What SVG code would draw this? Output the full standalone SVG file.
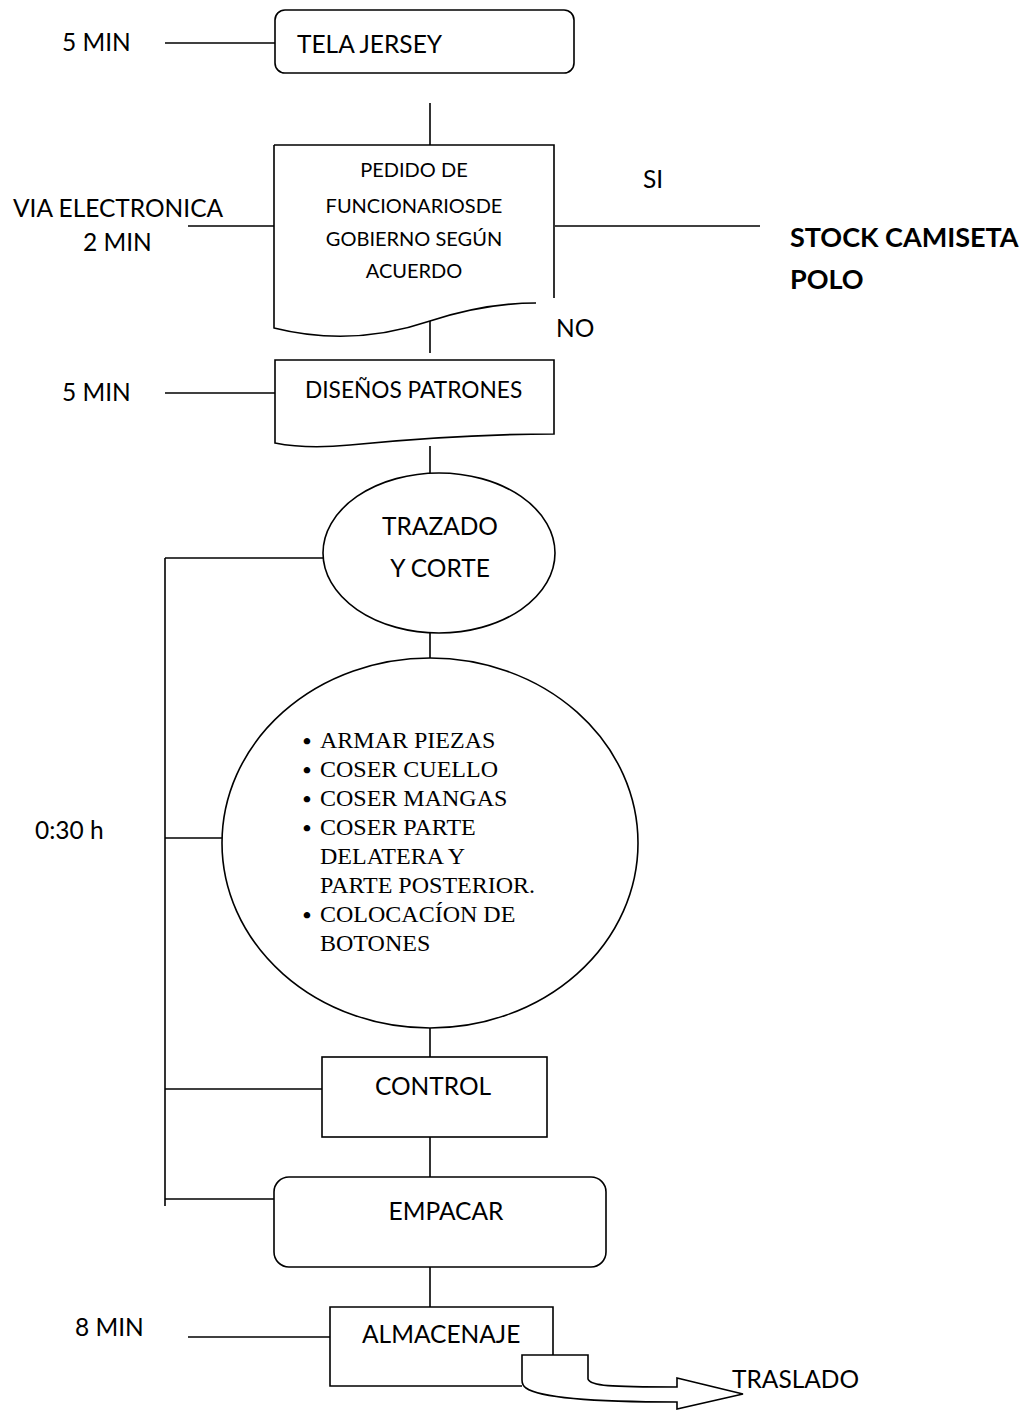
<svg xmlns="http://www.w3.org/2000/svg" width="1035" height="1410" viewBox="0 0 1035 1410">
<style>
.s{fill:none;stroke:#000;stroke-width:1.6}
.w{fill:#fff;stroke:#000;stroke-width:1.6}
.t{font-family:Lato,"Liberation Sans",sans-serif;font-size:24.5px;fill:#000}
.k{font-family:Lato,"Liberation Sans",sans-serif;font-size:27px;font-weight:bold;fill:#000}
.d{font-family:Lato,"Liberation Sans",sans-serif;font-size:20px;fill:#000;text-anchor:middle}
.b{font-family:"Liberation Serif","Times New Roman",serif;font-size:24px;fill:#000}
.u{font-family:"Liberation Serif","Times New Roman",serif;font-size:24px;font-weight:bold;fill:#000;text-anchor:middle}
.m{text-anchor:middle}
</style>
<rect width="1035" height="1410" fill="#fff"/>
<g id="connectors" class="s">
<line x1="165" y1="43" x2="275" y2="43"/>
<line x1="430" y1="103" x2="430" y2="146"/>
<line x1="188" y1="226" x2="275" y2="226"/>
<line x1="555" y1="226" x2="760" y2="226"/>
<line x1="430" y1="316" x2="430" y2="353"/>
<line x1="165" y1="393" x2="275" y2="393"/>
<line x1="430" y1="446" x2="430" y2="473"/>
<line x1="430" y1="633" x2="430" y2="658"/>
<line x1="430" y1="1028" x2="430" y2="1057"/>
<line x1="430" y1="1137" x2="430" y2="1177"/>
<line x1="430" y1="1267" x2="430" y2="1307"/>
<line x1="165" y1="558" x2="165" y2="1206"/>
<line x1="165" y1="558" x2="323" y2="558"/>
<line x1="165" y1="838" x2="222" y2="838"/>
<line x1="165" y1="1089" x2="322" y2="1089"/>
<line x1="165" y1="1199" x2="274" y2="1199"/>
<line x1="188" y1="1337" x2="330" y2="1337"/>
</g>
<g id="labels">
<text class="t" x="62" y="51">5 MIN</text>
<text class="t" x="13" y="217">VIA ELECTRONICA</text>
<text class="t" x="83" y="251">2 MIN</text>
<text class="t" x="643" y="188">SI</text>
<text class="k" x="790" y="247">STOCK CAMISETA</text>
<text class="k" x="790" y="289">POLO</text>
<text class="t" x="556" y="337">NO</text>
<text class="t" x="62" y="401">5 MIN</text>
<text class="t" x="35" y="839">0:30 h</text>
<text class="t" x="75" y="1336">8 MIN</text>
<text class="t" x="732" y="1388">TRASLADO</text>
</g>
<g id="tela-jersey">
<rect class="w" x="275" y="10" width="299" height="63" rx="10"/>
<text class="t" x="297" y="53">TELA JERSEY</text>
</g>
<g id="pedido">
<path class="w" d="M274,145 H554 V298 M274,145 V328 C330,342 380,338 430,321 C470,308 505,303 536,303"/>
<text class="d" x="414" y="177">PEDIDO DE</text>
<text class="d" x="414" y="213">FUNCIONARIOSDE</text>
<text class="d" x="414" y="246">GOBIERNO SEGÚN</text>
<text class="d" x="414" y="278">ACUERDO</text>
</g>
<g id="disenos">
<path class="w" d="M275,360 H554 V434 C470,434 400,440 350,445 C320,448 295,447 275,443 Z"/>
<text class="t" x="305" y="398" style="font-size:22.7px">DISEÑOS PATRONES</text>
</g>
<g id="trazado">
<ellipse class="w" cx="439" cy="553" rx="116" ry="80"/>
<text class="t m" x="440" y="535">TRAZADO</text>
<text class="t m" x="440" y="577">Y CORTE</text>
</g>
<g id="armado">
<ellipse class="w" cx="430" cy="843" rx="208" ry="185"/>
<text class="u" x="307" y="749">•</text>
<text class="u" x="307" y="778">•</text>
<text class="u" x="307" y="807">•</text>
<text class="u" x="307" y="836">•</text>
<text class="u" x="307" y="923">•</text>
<text class="b" x="320" y="748">ARMAR PIEZAS</text>
<text class="b" x="320" y="777">COSER CUELLO</text>
<text class="b" x="320" y="806">COSER MANGAS</text>
<text class="b" x="320" y="835">COSER PARTE</text>
<text class="b" x="320" y="864">DELATERA Y</text>
<text class="b" x="320" y="893">PARTE POSTERIOR.</text>
<text class="b" x="320" y="922">COLOCACÍON DE</text>
<text class="b" x="320" y="951">BOTONES</text>
</g>
<g id="control">
<rect class="w" x="322" y="1057" width="225" height="80"/>
<text class="t m" x="433" y="1095">CONTROL</text>
</g>
<g id="empacar">
<rect class="w" x="274" y="1177" width="332" height="90" rx="15"/>
<text class="t m" x="446" y="1220">EMPACAR</text>
</g>
<g id="almacenaje">
<path class="w" d="M522,1386 H330 V1307 H553 V1355"/>
<text class="t" x="362" y="1343">ALMACENAJE</text>
</g>
<g id="traslado-arrow">
<path class="w" d="M522,1355 H588 V1379 C590,1386 610,1387 677,1387 V1378 L743,1394 L677,1409 V1402 C600,1402 540,1398 526,1388 C523,1386 522,1383 522,1380 Z"/>
</g>
</svg>
